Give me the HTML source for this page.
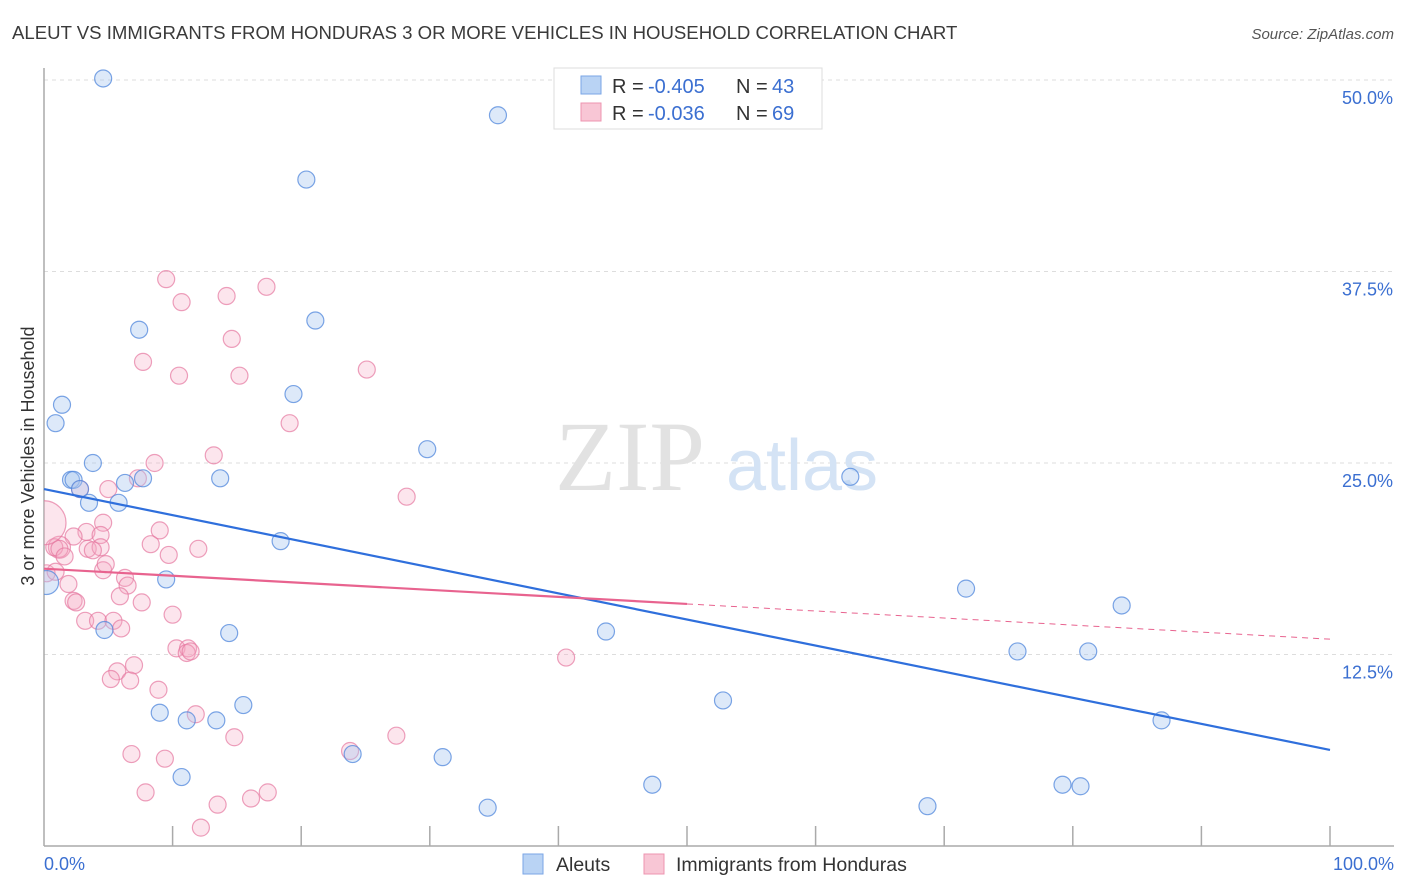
<!DOCTYPE html>
<html><head><meta charset="utf-8"><style>
body{margin:0;background:#fff;font-family:"Liberation Sans",sans-serif;}
</style></head><body>
<svg id="chart" width="1406" height="892" style="display:block">
<defs><clipPath id="plotclip"><rect x="44" y="40" width="1360" height="806"/></clipPath></defs>
<text x="12" y="39" font-size="18.6" fill="#3a3a3a">ALEUT VS IMMIGRANTS FROM HONDURAS 3 OR MORE VEHICLES IN HOUSEHOLD CORRELATION CHART</text>
<text x="1394" y="39" font-size="15" fill="#555" text-anchor="end" font-style="italic">Source: ZipAtlas.com</text>
<g id="grid"></g>
<text x="630" y="490" font-size="100" fill="#e2e2e2" font-family="Liberation Serif,serif" text-anchor="middle">ZIP</text>
<text x="802" y="490" font-size="72" fill="#d4e3f5" text-anchor="middle">atlas</text>
<line x1="44" y1="68" x2="44" y2="846" stroke="#aaa" stroke-width="1.5"/>
<line x1="44" y1="846" x2="1394" y2="846" stroke="#aaa" stroke-width="1.5"/>
<text transform="translate(34,456) rotate(-90)" font-size="18" fill="#333" text-anchor="middle">3 or more Vehicles in Household</text>
<text x="44" y="870" font-size="18" fill="#3b6fd1">0.0%</text>
<text x="1394" y="870" font-size="18" fill="#3b6fd1" text-anchor="end">100.0%</text>
<g id="points" clip-path="url(#plotclip)"></g>
<g id="trends"></g>
<g>
<rect x="554" y="68" width="268" height="61" fill="#fff" stroke="#ddd"/>
<rect x="581" y="76" width="20" height="18" fill="#b9d3f4" stroke="#7aa6e6"/>
<rect x="581" y="103" width="20" height="18" fill="#f8c6d5" stroke="#ee94b0"/>
<text y="93" font-size="20" fill="#333"><tspan x="612">R =</tspan><tspan x="648" fill="#3b6fd1">-0.405</tspan><tspan x="736">N =</tspan><tspan x="772" fill="#3b6fd1">43</tspan></text>
<text y="120" font-size="20" fill="#333"><tspan x="612">R =</tspan><tspan x="648" fill="#3b6fd1">-0.036</tspan><tspan x="736">N =</tspan><tspan x="772" fill="#3b6fd1">69</tspan></text>
</g>
<g>
<rect x="523" y="854" width="20" height="20" fill="#b9d3f4" stroke="#7aa6e6"/>
<text x="556" y="871" font-size="19.5" fill="#333">Aleuts</text>
<rect x="644" y="854" width="20" height="20" fill="#f8c6d5" stroke="#ee94b0"/>
<text x="676" y="871" font-size="19.5" fill="#333">Immigrants from Honduras</text>
</g>
</svg>
<script>
const yTicks=[12.5,25,37.5,50];
const yTickLabels=["12.5%","25.0%","37.5%","50.0%"];
const xTicks=[10,20,30,40,50,60,70,80,90,100];
const aleutX=[4.6,35.3,20.4,7.4,21.1,1.4,0.9,19.4,29.8,3.8,2.1,2.3,2.8,7.7,6.3,13.7,3.5,5.8,62.7,18.4,0.2,9.5,71.7,83.8,4.7,14.4,43.7,75.7,81.2,9.0,13.4,15.5,52.8,86.9,11.1,24.0,31.0,10.7,47.3,79.2,80.6,34.5,68.7];
const aleutY=[50.1,47.7,43.5,33.7,34.3,28.8,27.6,29.5,25.9,25.0,23.9,23.9,23.3,24.0,23.7,24.0,22.4,22.4,24.1,19.9,17.2,17.4,16.8,15.7,14.1,13.9,14.0,12.7,12.7,8.7,8.2,9.2,9.5,8.2,8.2,6.0,5.8,4.5,4.0,4.0,3.9,2.5,2.6];
const hondX=[9.5,10.7,14.2,17.3,14.6,7.7,10.5,15.2,25.1,19.1,8.6,13.2,28.2,2.8,7.3,4.6,9.0,3.3,4.4,2.3,1.2,0.8,1.2,3.4,4.4,8.3,12.0,0.0,4.6,1.6,4.8,0.2,0.9,6.3,6.5,1.9,5.9,2.3,2.5,7.6,3.2,4.2,5.4,6.0,10.0,10.3,11.2,11.1,11.4,40.6,7.0,5.7,5.2,6.7,8.9,11.8,14.8,27.4,23.8,6.8,9.4,7.9,13.5,16.1,17.4,12.2,5.0,3.8,9.7];
const hondY=[37.0,35.5,35.9,36.5,33.1,31.6,30.7,30.7,31.1,27.6,25.0,25.5,22.8,23.3,24.0,21.1,20.6,20.5,20.3,20.2,19.5,19.5,19.4,19.4,19.5,19.7,19.4,21.1,18.0,18.9,18.4,17.8,17.9,17.5,17.0,17.1,16.3,16.0,15.9,15.9,14.7,14.7,14.7,14.2,15.1,12.9,12.9,12.6,12.7,12.3,11.8,11.4,10.9,10.8,10.2,8.6,7.1,7.2,6.2,6.0,5.7,3.5,2.7,3.1,3.5,1.2,23.3,19.3,19.0];
const blueTrend=[23.3,6.27];
const pinkTrend=[18.1,13.5];
const X=v=>44+v*12.86, Y=v=>846-v*15.32;
const NS="http://www.w3.org/2000/svg";
const grid=document.getElementById('grid');
yTicks.forEach((t,i)=>{
  const l=document.createElementNS(NS,'line');
  l.setAttribute('x1',44);l.setAttribute('x2',1394);l.setAttribute('y1',Y(t));l.setAttribute('y2',Y(t));
  l.setAttribute('stroke','#ddd');l.setAttribute('stroke-dasharray','4,4');
  
  
  grid.appendChild(l);
  const tx=document.createElementNS(NS,'text');
  tx.setAttribute('x',1393);tx.setAttribute('y',Y(t)+24);tx.setAttribute('text-anchor','end');
  tx.setAttribute('font-size','18');tx.setAttribute('fill','#3b6fd1');tx.textContent=yTickLabels[i];
  
  
  grid.appendChild(tx);
});
xTicks.forEach(t=>{
  const l=document.createElementNS(NS,'line');
  l.setAttribute('x1',X(t));l.setAttribute('x2',X(t));l.setAttribute('y1',826);l.setAttribute('y2',846);
  l.setAttribute('stroke','#aaa');l.setAttribute('stroke-width','1.5');
  
  
  grid.appendChild(l);
});
const pts=document.getElementById('points');
function dot(x,y,r,fill,stroke,name){
  const c=document.createElementNS(NS,'circle');
  c.setAttribute('cx',X(x));c.setAttribute('cy',Y(y));c.setAttribute('r',r);
  c.setAttribute('fill',fill);c.setAttribute('stroke',stroke);c.setAttribute('stroke-width','1.2');
  
  
  pts.appendChild(c);
}
hondX.forEach((x,i)=>dot(x,hondY[i],i===27?22:(i===20?11:8.5),'rgba(244,170,195,0.3)','rgba(230,120,160,0.7)','honduras-point'));
aleutX.forEach((x,i)=>dot(x,aleutY[i],i===20?12:8.5,'rgba(170,200,240,0.4)','rgba(80,135,220,0.75)','aleut-point'));
const tr=document.getElementById('trends');
function line(x1,v1,x2,v2,col,dash,name,w){
  const l=document.createElementNS(NS,'line');
  l.setAttribute('x1',X(x1));l.setAttribute('x2',X(x2));l.setAttribute('y1',Y(v1));l.setAttribute('y2',Y(v2));
  l.setAttribute('stroke',col);l.setAttribute('stroke-width',w);
  if(dash)l.setAttribute('stroke-dasharray',dash);
  
  
  tr.appendChild(l);
}
const pAt=x=>pinkTrend[0]+(pinkTrend[1]-pinkTrend[0])*x/100;
line(0,blueTrend[0],100,blueTrend[1],'#2f6fdc',null,'aleut-trendline',2.2);
line(0,pinkTrend[0],50,pAt(50),'#e8638f',null,'honduras-trendline',2.2);
line(50,pAt(50),100,pinkTrend[1],'#e8638f','6,5','honduras-trendline-extension',1);
</script>
</body></html>
